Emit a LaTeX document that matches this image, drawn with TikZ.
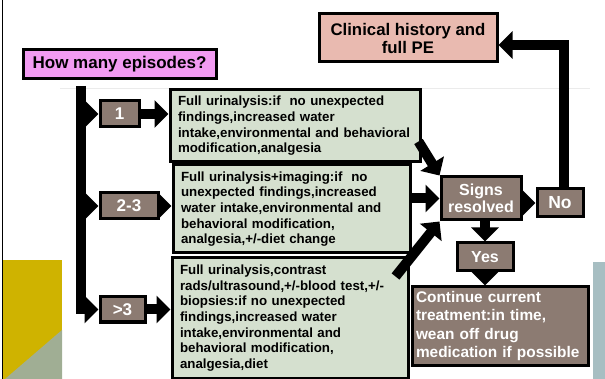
\documentclass[tikz,border=0pt]{standalone}
\usepackage{fontspec}
\setmainfont{Liberation Sans}
\usetikzlibrary{arrows.meta,calc}
\definecolor{boxgreen}{RGB}{213,224,207}
\definecolor{boxbrown}{RGB}{140,123,114}
\definecolor{boxpink}{RGB}{242,155,242}
\definecolor{boxsalmon}{RGB}{233,186,176}
\definecolor{slideyellow}{RGB}{207,179,0}
\definecolor{slidegreen}{RGB}{160,174,148}
\definecolor{slideblue}{RGB}{167,190,194}

\begin{document}
\begin{tikzpicture}[x=1pt, y=-1pt,
		box/.style={draw, line width=3pt, inner sep=0pt},
		greenbox/.style={box, fill=boxgreen, align=left, font=\fontsize{13.3}{15.7}\selectfont\bfseries},
		brownbox/.style={box, fill=boxbrown, text=white, align=center, font=\fontsize{16}{17}\selectfont\bfseries},
		fat/.style={line width=10pt, -{Triangle[width=27pt, length=14pt]}}]
			\useasboundingbox (0, 0) rectangle (605, 379);
			\fill[slideyellow] (3, 260) rectangle (62, 379);
			\fill[slidegreen] (62, 330) -- (62, 379) -- (5, 379) -- cycle;
			\fill[slideblue] (593, 262) rectangle (605, 379);
			\draw[line width=1.5pt] (2.5, 0) -- (2.5, 379);
			\draw[black!8, thin] (60, 88) -- (590, 88);

			\node[box, fill=boxpink, minimum width=193pt, minimum height=29pt, font=\fontsize{17}{19}\selectfont\bfseries] (howmany) at (119.5, 64.5) {How many episodes?};
			\node[box, fill=boxsalmon, minimum width=178pt, minimum height=48pt, align=center, font=\fontsize{16.8}{18}\selectfont\bfseries] (clin) at (408, 38) {Clinical history and\\full PE};

			\node[brownbox, minimum width=39pt, minimum height=26pt, font=\fontsize{17}{19}\selectfont\bfseries] (n1) at (119.5, 114) {1};
			\node[brownbox, minimum width=58pt, minimum height=26pt, font=\fontsize{17}{19}\selectfont\bfseries] (n2) at (129, 206) {2-3};
			\node[brownbox, minimum width=45pt, minimum height=25pt, font=\fontsize{17}{19}\selectfont\bfseries] (n3) at (122.5, 309.5) {>3};

			\node[greenbox, minimum width=250pt, minimum height=72pt, text width=234pt] (box1) at (295, 126) {Full urinalysis:if~ no unexpected\\findings,increased water\\intake,environmental and behavioral\\modification,analgesia};
			\node[greenbox, minimum width=237pt, minimum height=88pt, text width=221pt] (box2) at (291.5, 209) {Full urinalysis+imaging:if~ no\\unexpected findings,increased\\water intake,environmental and\\behavioral modification,\\analgesia,+/-diet change};
			\node[greenbox, minimum width=236pt, minimum height=120pt, text width=220pt] (box3) at (290, 318) {Full urinalysis,contrast\\rads/ultrasound,+/-blood test,+/-\\biopsies:if no unexpected\\findings,increased water\\intake,environmental and\\behavioral modification,\\analgesia,diet};

			\node[brownbox, minimum width=80pt, minimum height=43pt] (signs) at (481, 198.5) {Signs\\resolved};
			\node[brownbox, minimum width=46pt, minimum height=28pt, font=\fontsize{17.5}{19}\selectfont\bfseries] (no) at (560, 203) {No};
			\node[brownbox, minimum width=56pt, minimum height=28pt] (yes) at (485, 257) {Yes};
			\node[brownbox, minimum width=176pt, minimum height=78pt, text width=168pt, align=left, font=\fontsize{15.4}{18.5}\selectfont\bfseries] (cont) at (500, 326) {Continue current\\treatment:in time,\\wean off drug\\medication if possible};

			\coordinate (bartop) at (81, 86);
			\coordinate (noup) at ($(no.north)+(4, 0)$);
			\coordinate (clinin) at ($(clin.east)+(0, 7)$);

			\draw[fat] (bartop) -- (bartop |- n3) -- (n3.west);
			\draw[fat] (n1 -| bartop) -- (n1.west);
			\draw[fat] (n2 -| bartop) -- (n2.west);
			\draw[fat] (n1.east) -- (n1 -| box1.west);
			\draw[fat] (n2.east) -- (n2 -| box2.west);
			\draw[fat] (n3.east) -- (n3 -| box3.west);

			\draw[fat] ($(box1.south east)+(-3, -22)$) -- (signs.north west);
			\draw[fat] (signs.west -| box2.east) -- (signs.west);
			\draw[fat] ($(box3.north east)+(-14, 20)$) -- (signs.south west);
			\draw[fat] (no.west -| signs.east) -- (no.west);
			\draw[fat] (noup) -- (noup |- clinin) -- (clinin);
			\draw[fat] (signs.south -| yes) -- (yes.north);
			\draw[fat] (yes.south) -- (yes.south |- cont.north);
		\end{tikzpicture}
\end{document}
